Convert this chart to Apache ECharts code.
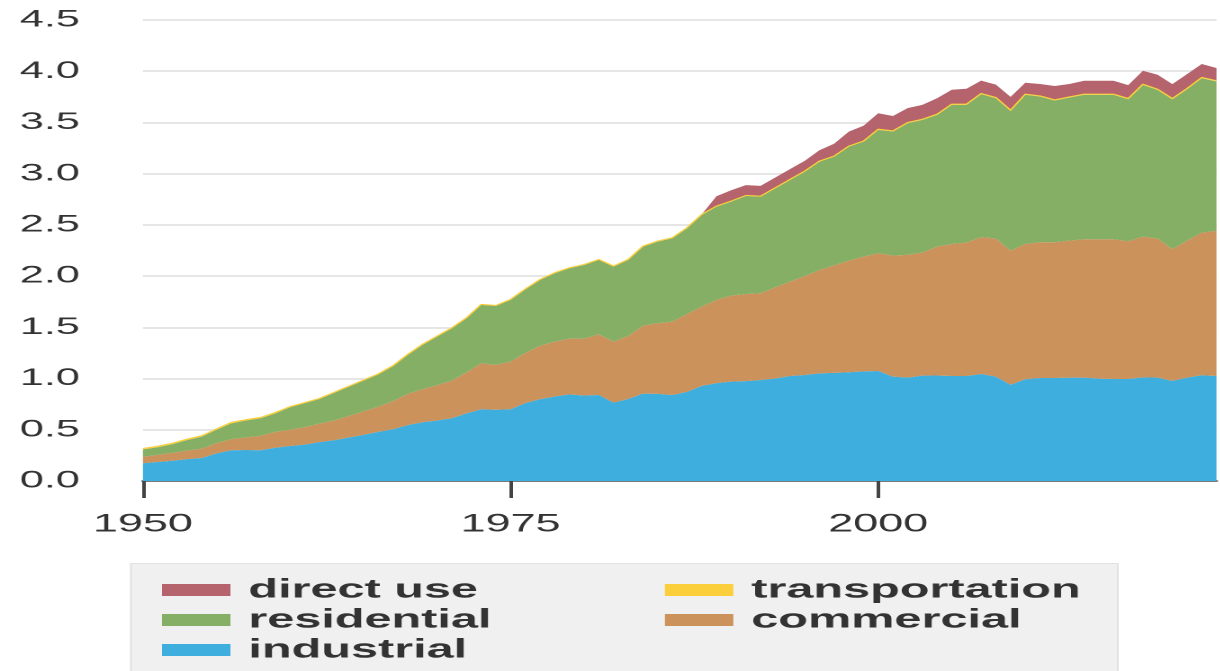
<!DOCTYPE html>
<html>
<head>
<meta charset="utf-8">
<script src="https://cdn.jsdelivr.net/npm/echarts@6/dist/echarts.min.js"></script>
<style>
  html, body { margin: 0; padding: 0; background: #ffffff; overflow: hidden; }
  #wrap { width: 1220px; height: 671px; overflow: hidden; position: relative; }
  #chart { width: 677.8px; height: 671px; transform: scaleX(1.8); transform-origin: 0 0; }
</style>
</head>
<body>
<div id="wrap"><div id="chart"></div></div>
<script>
// ---- data (trillion kWh), years 1950..2023 ----
const firstYear = 1950;
const lastYear = 2023;
const years = [];
for (let y = firstYear; y <= lastYear; y++) years.push(String(y));

const industrial = [
  0.173, 0.185, 0.198, 0.213, 0.225, 0.270, 0.300, 0.303, 0.300, 0.325,
  0.342, 0.355, 0.380, 0.398, 0.425, 0.450, 0.480, 0.505, 0.545, 0.573,
  0.590, 0.612, 0.660, 0.700, 0.695, 0.700, 0.760, 0.798, 0.825, 0.846,
  0.835, 0.840, 0.765, 0.800, 0.853, 0.850, 0.840, 0.870, 0.928, 0.955,
  0.970, 0.975, 0.986, 1.000, 1.025, 1.035, 1.051, 1.055, 1.061, 1.070,
  1.074, 1.019, 1.009, 1.028, 1.030, 1.025, 1.025, 1.045, 1.019, 0.940,
  0.993, 1.006, 1.006, 1.009, 1.009, 0.999, 0.996, 0.996, 1.012, 1.009,
  0.977, 1.009, 1.032, 1.025
];
const commercial = [
  0.064, 0.070, 0.077, 0.084, 0.090, 0.100, 0.107, 0.122, 0.140, 0.155,
  0.158, 0.170, 0.180, 0.192, 0.210, 0.230, 0.245, 0.275, 0.305, 0.322,
  0.345, 0.368, 0.400, 0.449, 0.438, 0.465, 0.490, 0.522, 0.535, 0.544,
  0.555, 0.592, 0.595, 0.616, 0.664, 0.690, 0.716, 0.760, 0.774, 0.813,
  0.840, 0.850, 0.847, 0.890, 0.922, 0.965, 1.009, 1.050, 1.090, 1.120,
  1.149, 1.181, 1.198, 1.202, 1.258, 1.289, 1.302, 1.335, 1.348, 1.309,
  1.321, 1.324, 1.324, 1.338, 1.351, 1.361, 1.364, 1.344, 1.374, 1.358,
  1.285, 1.338, 1.393, 1.416
];
const residential = [
  0.072, 0.075, 0.085, 0.103, 0.118, 0.130, 0.156, 0.165, 0.172, 0.180,
  0.220, 0.235, 0.240, 0.270, 0.285, 0.300, 0.315, 0.340, 0.380, 0.433,
  0.475, 0.510, 0.529, 0.570, 0.576, 0.603, 0.620, 0.643, 0.668, 0.687,
  0.719, 0.726, 0.733, 0.742, 0.771, 0.797, 0.814, 0.838, 0.896, 0.911,
  0.918, 0.958, 0.943, 0.968, 0.992, 1.020, 1.058, 1.062, 1.114, 1.123,
  1.205, 1.211, 1.286, 1.295, 1.286, 1.358, 1.345, 1.396, 1.370, 1.364,
  1.456, 1.423, 1.384, 1.396, 1.410, 1.410, 1.410, 1.387, 1.481, 1.451,
  1.465, 1.478, 1.508, 1.459
];
const transportation = [
  0.009, 0.009, 0.009, 0.009, 0.009, 0.009, 0.009, 0.009, 0.009, 0.009,
  0.006, 0.006, 0.006, 0.006, 0.006, 0.006, 0.006, 0.006, 0.006, 0.006,
  0.005, 0.005, 0.005, 0.005, 0.005, 0.005, 0.005, 0.005, 0.005, 0.005,
  0.005, 0.005, 0.005, 0.005, 0.005, 0.005, 0.005, 0.005, 0.005, 0.005,
  0.005, 0.005, 0.005, 0.005, 0.005, 0.005, 0.005, 0.005, 0.005, 0.005,
  0.007, 0.007, 0.007, 0.007, 0.007, 0.007, 0.007, 0.007, 0.007, 0.007,
  0.007, 0.007, 0.007, 0.007, 0.007, 0.007, 0.007, 0.007, 0.007, 0.007,
  0.007, 0.007, 0.007, 0.007
];
const directUse = [
  0, 0, 0, 0, 0, 0, 0, 0, 0, 0,
  0, 0, 0, 0, 0, 0, 0, 0, 0, 0,
  0, 0, 0, 0, 0, 0, 0, 0, 0, 0,
  0, 0, 0, 0, 0, 0, 0, 0, 0, 0.095,
  0.105, 0.100, 0.100, 0.100, 0.100, 0.100, 0.105, 0.120, 0.140, 0.150,
  0.155, 0.145, 0.140, 0.140, 0.155, 0.140, 0.150, 0.125, 0.125, 0.130,
  0.110, 0.115, 0.135, 0.125, 0.130, 0.130, 0.130, 0.130, 0.130, 0.140,
  0.140, 0.140, 0.130, 0.125
];

const yTicks = { min: 0, max: 4.5, step: 0.5 };
const xTickYears = ['1950', '1975', '2000'];

const colors = {
  'direct use': '#b5636c',
  'transportation': '#fbcf3b',
  'residential': '#86af66',
  'commercial': '#cb925b',
  'industrial': '#3eaedf'
};

function areaSeries(name, arr, lineWidth) {
  return {
    name: name,
    type: 'line',
    stack: 'total',
    data: arr,
    symbol: 'none',
    showSymbol: false,
    smooth: false,
    itemStyle: { color: colors[name] },
    lineStyle: { width: lineWidth, color: colors[name] },
    areaStyle: { color: colors[name], opacity: 1 }
  };
}

const chart = echarts.init(document.getElementById('chart'), null, { renderer: 'canvas', devicePixelRatio: 2 });

const legendText = {
  fontFamily: '"Liberation Sans", Arial, sans-serif',
  fontSize: 27,
  fontWeight: 'bold',
  color: '#333333',
  lineHeight: 30,
  padding: [0, 0, 0, 5]
};

const tickFilter = (idx, val) => xTickYears.indexOf(String(val)) >= 0;

chart.setOption({
  animation: false,
  backgroundColor: '#ffffff',
  graphic: [{
    type: 'rect',
    left: 72.2, top: 563,
    shape: { width: 548.3, height: 130 },
    style: { fill: '#f0f0f0', stroke: '#e2e2e2', lineWidth: 1 },
    z: 0
  }],
  legend: [
    {
      data: ['direct use', 'residential', 'industrial'],
      orient: 'vertical',
      left: 90, top: 575,
      padding: 0,
      itemGap: 0,
      itemWidth: 38, itemHeight: 12,
      icon: 'rect',
      selectedMode: false,
      textStyle: legendText,
      z: 5
    },
    {
      data: ['transportation', 'commercial'],
      orient: 'vertical',
      left: 369.4, top: 575,
      padding: 0,
      itemGap: 0,
      itemWidth: 38, itemHeight: 12,
      icon: 'rect',
      selectedMode: false,
      textStyle: legendText,
      z: 5
    }
  ],
  grid: { left: 79.4, right: 2.2, top: 20, bottom: 190, containLabel: false },
  xAxis: {
    type: 'category',
    data: years,
    boundaryGap: false,
    axisLine: { show: true, lineStyle: { color: '#7a7a7a', width: 2 } },
    axisTick: { show: true, length: 17, interval: tickFilter, lineStyle: { color: '#444444', width: 2 } },
    axisLabel: {
      interval: tickFilter,
      margin: 31,
      fontFamily: '"Liberation Sans", Arial, sans-serif',
      fontSize: 25,
      color: '#333333'
    },
    splitLine: { show: false }
  },
  yAxis: {
    type: 'value',
    min: yTicks.min,
    max: yTicks.max,
    interval: yTicks.step,
    axisLine: { show: false },
    axisTick: { show: false },
    axisLabel: {
      margin: 35,
      fontFamily: '"Liberation Sans", Arial, sans-serif',
      fontSize: 24,
      color: '#333333',
      formatter: v => v.toFixed(1)
    },
    splitLine: { show: true, lineStyle: { color: '#e6e6e6', width: 2 } }
  },
  series: [
    areaSeries('industrial', industrial, 0),
    areaSeries('commercial', commercial, 0),
    areaSeries('residential', residential, 0),
    areaSeries('transportation', transportation, 1),
    areaSeries('direct use', directUse, 0)
  ]
});
</script>
</body>
</html>
